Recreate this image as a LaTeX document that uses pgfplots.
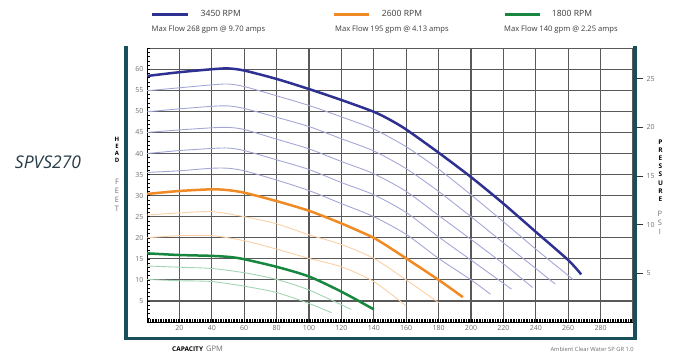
\documentclass[border=0pt]{standalone}
\usepackage{pgfplots}
\pgfplotsset{compat=1.18}
\usepackage{fontspec}
\setmainfont{Open Sans}
\definecolor{bluemain}{HTML}{2E3192}
\definecolor{bluethin}{HTML}{A4A7D6}
\definecolor{orangemain}{HTML}{F08A24}
\definecolor{orangethin}{HTML}{FAD0A6}
\definecolor{greenmain}{HTML}{17873F}
\definecolor{greenthin}{HTML}{A2D5B3}
\definecolor{frameteal}{HTML}{17505B}
\definecolor{txtgray}{HTML}{6D6E71}
\definecolor{darktxt}{HTML}{3A3A3C}
\definecolor{titletxt}{HTML}{263C46}
\begin{document}
\begin{tikzpicture}[x=1pt,y=1pt]
\path[use as bounding box] (0pt,0pt) rectangle (678pt,358pt);
\begin{axis}[
  at={(147pt,36pt)}, anchor=south west, scale only axis,
  width=486pt, height=273.8pt,
  xmin=0, xmax=300, ymin=0, ymax=65,
  axis x line*=bottom, axis y line*=left,
  axis line style={black, line width=0.6pt},
  xtick={20,40,...,280}, ytick={5,10,...,60},
  minor xtick={0,1,...,300}, minor ytick={0,1,...,65},
  extra y ticks={65}, extra y tick labels={},
  extra x ticks={300}, extra x tick labels={},
  extra tick style={grid=major},
  grid=major,
  major grid style={black!65, line width=1.25pt},
  tick align=inside,
  major tick length=3pt, minor tick length=3pt,
  tick style={black, line width=0.5pt},
  tick label style={font=\fontsize{7}{8}\selectfont, text=txtgray},
  /pgf/number format/assume math mode=true,
]
% 3450 RPM trims
\addplot[bluethin, line width=0.9pt, smooth, tension=0.45] coordinates {(0,54.9) (20,55.6) (40,56.3) (50,56.5) (60,55.9) (80,53.7) (100,51.4) (120,48.7) (140,45.8) (160,41.6) (180,36.3) (200,30.2) (220,23.8) (240,17.3) (263,10.1)};
\addplot[bluethin, line width=0.9pt, smooth, tension=0.45] coordinates {(0,49.9) (20,50.6) (40,51.2) (50,51.3) (60,50.7) (80,48.6) (100,46.4) (120,43.5) (140,40.6) (160,36.4) (180,31.0) (200,25.0) (220,18.8) (240,12.7) (252,9.0)};
\addplot[bluethin, line width=0.9pt, smooth, tension=0.45] coordinates {(0,45.0) (20,45.6) (40,46.1) (50,46.2) (60,45.7) (80,43.4) (100,41.1) (120,38.1) (140,35.2) (160,31.0) (180,25.3) (200,19.6) (220,13.8) (238,8.2)};
\addplot[bluethin, line width=0.9pt, smooth, tension=0.45] coordinates {(0,40.0) (20,40.7) (40,41.2) (50,41.3) (60,40.7) (80,38.5) (100,36.2) (120,33.1) (140,30.2) (160,26.0) (180,20.2) (200,14.7) (225,7.8)};
\addplot[bluethin, line width=0.9pt, smooth, tension=0.45] coordinates {(0,35.5) (20,35.9) (40,36.5) (50,36.5) (60,35.9) (80,33.7) (100,31.2) (120,28.1) (140,25.0) (160,20.8) (180,15.1) (200,10.0) (212,6.6)};
% 2600 RPM trims
\addplot[orangethin, line width=0.9pt, smooth, tension=0.45] coordinates {(0,25.4) (20,25.9) (40,26.2) (60,25.0) (80,23.3) (100,20.7) (120,18.4) (140,15.1) (160,10.0) (180,4.6)};
\addplot[orangethin, line width=0.9pt, smooth, tension=0.45] coordinates {(0,20.0) (20,20.5) (40,20.5) (60,19.3) (80,17.3) (100,15.1) (120,13.1) (140,9.6) (160,3.8)};
% 1800 RPM trims
\addplot[greenthin, line width=0.9pt, smooth, tension=0.45] coordinates {(0,13.3) (20,13.0) (40,12.7) (60,11.7) (80,10.1) (100,7.6) (126,3.0)};
\addplot[greenthin, line width=0.9pt, smooth, tension=0.45] coordinates {(0,10.1) (20,9.8) (40,9.6) (60,8.5) (80,7.0) (100,4.4) (114,2.2)};
% main curves
\addplot[bluemain, line width=2.5pt, smooth, tension=0.45] coordinates {(0,58.4) (20,59.3) (40,60.0) (50,60.2) (60,59.7) (80,57.7) (100,55.3) (120,52.7) (140,49.9) (150,48.0) (160,45.7) (180,40.2) (200,34.4) (220,28.1) (240,21.4) (260,14.7) (268,11.3)};
\addplot[orangemain, line width=2.5pt, smooth, tension=0.45] coordinates {(0,30.4) (20,31.1) (40,31.5) (50,31.3) (60,30.7) (80,28.7) (100,26.4) (120,23.4) (140,20.0) (146,18.6) (160,15.1) (180,10.0) (195,5.9)};
\addplot[greenmain, line width=2.5pt, smooth, tension=0.45] coordinates {(0,16.3) (20,15.9) (40,15.7) (52,15.4) (60,14.9) (80,13.1) (100,10.8) (120,7.2) (140,3.0)};
\end{axis}
\begin{axis}[
  at={(147pt,36pt)}, anchor=south west, scale only axis,
  width=486pt, height=273.8pt,
  xmin=0, xmax=300, ymin=0, ymax=28.1385,
  axis x line=none, axis y line*=right,
  y axis line style={draw=none},
  ytick={5,10,...,25},
  tick align=outside, major tick length=10pt,
  tick style={black!80, line width=0.6pt},
  tick label style={font=\fontsize{7}{8}\selectfont, text=txtgray},
  /pgf/number format/assume math mode=true,
]
\addplot[draw=none] coordinates {(0,0) (300,28)};
\end{axis}
% frame
\fill[frameteal] (124pt,18pt) rectangle (127.5pt,312pt);
\fill[frameteal] (633pt,18pt) rectangle (637pt,312pt);
\fill[frameteal] (124pt,18pt) rectangle (637pt,20.5pt);
% legend
\draw[bluemain, line width=2.2pt] (152pt,343.5pt) -- (188pt,343.5pt);
\draw[orangemain, line width=2.2pt] (334pt,343.5pt) -- (369pt,343.5pt);
\draw[greenmain, line width=2.2pt] (505pt,343.5pt) -- (540pt,343.5pt);
\begin{scope}[every node/.style={anchor=base west, inner sep=0, text=darktxt}]
\node[font=\fontsize{8.6}{10}\selectfont] at (200.5pt,341.2pt) {3450 RPM};
\node[font=\fontsize{8.6}{10}\selectfont] at (381.7pt,341.2pt) {2600 RPM};
\node[font=\fontsize{8.6}{10}\selectfont] at (551.7pt,341.2pt) {1800 RPM};
\node[font=\fontsize{7.6}{9}\selectfont] at (151.5pt,326.8pt) {Max Flow 268 gpm @ 9.70 amps};
\node[font=\fontsize{7.6}{9}\selectfont] at (335pt,326.8pt) {Max Flow 195 gpm @ 4.13 amps};
\node[font=\fontsize{7.6}{9}\selectfont] at (504pt,326.8pt) {Max Flow 140 gpm @ 2.25 amps};
\end{scope}
% titles
\node[inner sep=0, text=titletxt, font=\fontsize{17.5}{20}\selectfont\itshape] at (48pt,196pt) {SPVS270};
\node[inner sep=0, align=center, text=black, font=\fontsize{6}{7.2}\selectfont\bfseries] at (117pt,208pt) {H\\E\\A\\D};
\node[inner sep=0, align=center, text=txtgray, font=\fontsize{7.5}{9.1}\selectfont] at (117pt,163pt) {F\\E\\E\\T};
\node[inner sep=0, align=center, text=black, font=\fontsize{6.5}{8.2}\selectfont\bfseries] at (660.5pt,187.5pt) {P\\R\\E\\S\\S\\U\\R\\E};
\node[inner sep=0, align=center, text=txtgray, font=\fontsize{7.5}{8.7}\selectfont] at (660pt,135pt) {P\\S\\I};
\node[anchor=base west, inner sep=0, text=black, font=\fontsize{6.5}{8}\selectfont\bfseries] at (172pt,6pt) {CAPACITY\hspace{3pt}{\mdseries\color{txtgray}\fontsize{7.5}{9}\selectfont GPM}};
\node[anchor=base east, inner sep=0, text=txtgray, font=\fontsize{5.8}{7}\selectfont] at (634pt,6pt) {Ambient Clear Water SP GR 1.0};
\end{tikzpicture}
\end{document}
